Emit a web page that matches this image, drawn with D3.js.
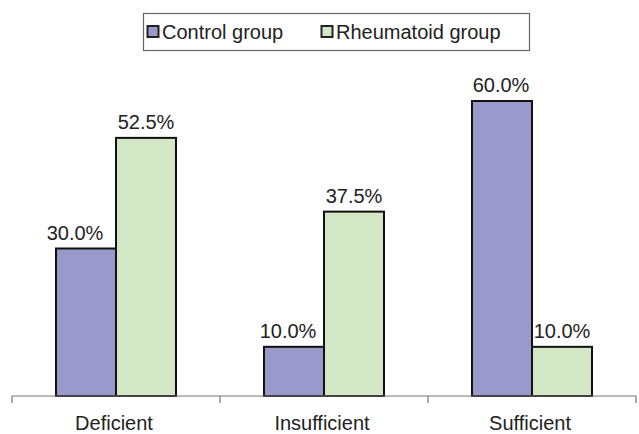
<!DOCTYPE html>
<html>
<head>
<meta charset="utf-8">
<script src="https://cdn.jsdelivr.net/npm/d3@7"></script>
<style>
  html, body { margin: 0; padding: 0; background: #fff; }
  svg { display: block; font-family: "Liberation Sans", Arial, sans-serif; }
</style>
</head>
<body>
<svg id="chart" width="639" height="434"></svg>
<script>
// Vitamin D status by group (percent of patients)
const categories = ["Deficient", "Insufficient", "Sufficient"];
const seriesNames = ["Control group", "Rheumatoid group"];
const controlValues = [30.0, 10.0, 60.0];
const rheumatoidValues = [52.5, 37.5, 10.0];
const seriesColors = ["#9999cc", "#d3e7c7"];

const svg = d3.select("#chart");
const baseline = 396;

const x0 = d3.scaleBand().domain(categories).range([12, 636]).paddingInner(0).paddingOuter(0);
const x1 = d3.scaleBand().domain(seriesNames).range([44, x0.bandwidth() - 44]);
const y = d3.scaleLinear().domain([0, 60]).range([baseline, 101]);

// horizontal nudges for the control-group value labels, keeping them clear of the neighbouring bar
const controlLabelShift = [-11, -6, -1];

const rows = categories.map((c, i) => ({
  category: c,
  values: [
    { name: seriesNames[0], value: controlValues[i], color: seriesColors[0], dx: controlLabelShift[i] },
    { name: seriesNames[1], value: rheumatoidValues[i], color: seriesColors[1], dx: 0 }
  ]
}));

const groups = svg.selectAll("g.cat").data(rows).join("g")
  .attr("class", "cat")
  .attr("transform", d => `translate(${x0(d.category)},0)`);

groups.selectAll("rect").data(d => d.values).join("rect")
  .attr("x", d => x1(d.name))
  .attr("y", d => y(d.value))
  .attr("width", x1.bandwidth())
  .attr("height", d => baseline - y(d.value))
  .attr("fill", d => d.color)
  .attr("stroke", "#111")
  .attr("stroke-width", 2);

groups.selectAll("text.val").data(d => d.values).join("text")
  .attr("class", "val")
  .attr("x", d => x1(d.name) + x1.bandwidth() / 2 + d.dx)
  .attr("y", d => y(d.value) - 9)
  .attr("text-anchor", "middle")
  .attr("font-size", 20)
  .attr("fill", "#222")
  .text(d => d.value.toFixed(1) + "%");

// Category axis with ticks on band boundaries
const axisG = svg.append("g");
axisG.append("line")
  .attr("x1", x0.range()[0]).attr("x2", x0.range()[1])
  .attr("y1", baseline).attr("y2", baseline)
  .attr("stroke", "#777").attr("stroke-width", 1.2);
const boundaries = categories.map(c => x0(c)).concat([x0.range()[1]]);
axisG.selectAll("line.tick").data(boundaries).join("line")
  .attr("class", "tick")
  .attr("x1", d => d).attr("x2", d => d)
  .attr("y1", baseline).attr("y2", baseline + 7)
  .attr("stroke", "#777").attr("stroke-width", 1.2);
axisG.selectAll("text").data(categories).join("text")
  .attr("x", d => x0(d) + x0.bandwidth() / 2 - 2)
  .attr("y", 430)
  .attr("text-anchor", "middle")
  .attr("font-size", 20)
  .attr("fill", "#222")
  .text(d => d);

// Legend
const legend = svg.append("g");
legend.append("rect")
  .attr("x", 143.5).attr("y", 13.5).attr("width", 386).attr("height", 37)
  .attr("fill", "#fff").attr("stroke", "#666").attr("stroke-width", 1.2);
const legendX = [147, 321];
const items = legend.selectAll("g.item").data(seriesNames).join("g")
  .attr("class", "item")
  .attr("transform", (d, i) => `translate(${legendX[i]},0)`);
items.append("rect")
  .attr("x", 0.5).attr("y", 26).attr("width", 11).attr("height", 11)
  .attr("fill", (d, i) => seriesColors[i])
  .attr("stroke", "#222").attr("stroke-width", 2);
items.append("text")
  .attr("x", 15).attr("y", 38.5)
  .attr("font-size", 20)
  .attr("fill", "#222")
  .text(d => d);
</script>
</body>
</html>
